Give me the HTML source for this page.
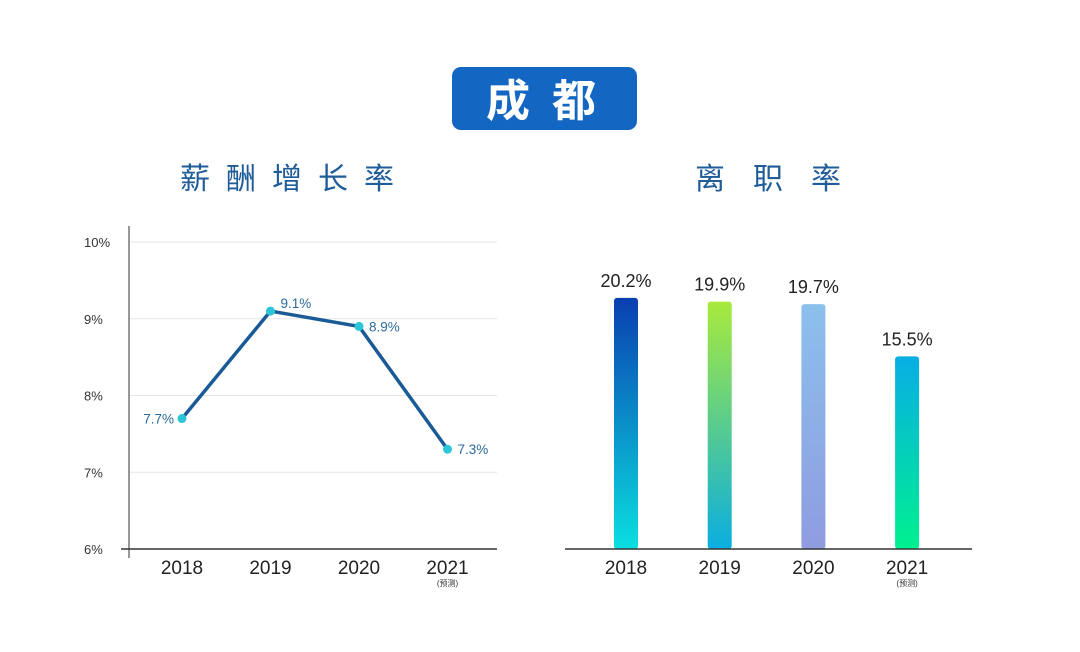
<!DOCTYPE html>
<html><head><meta charset="utf-8"><style>
body{margin:0;background:#fff;}
svg{display:block;font-family:"Liberation Sans","Noto Sans CJK SC",sans-serif;}
</style></head><body>
<svg id="c" width="1080" height="652" viewBox="0 0 1080 652">
<rect x="452" y="67" width="185" height="63" rx="9" fill="#1366c2"/>
<text x="552" y="116" text-anchor="middle" font-size="44" font-weight="bold" fill="#fff" letter-spacing="22">成都</text>
<text x="180" y="189" font-size="30" fill="#1f5c98" letter-spacing="16">薪酬增长率</text>
<text x="695" y="189" font-size="30" fill="#1f5c98" letter-spacing="28">离职率</text>
<g id="line"></g><g id="bars"></g>
</svg>
<script>
const years=["2018","2019","2020","2021"];
const salaryGrowth=[7.7,9.1,8.9,7.3];
const yTicks=[6,7,8,9,10];
const turnover=[20.2,19.9,19.7,15.5];
const ns="http://www.w3.org/2000/svg";
function mk(p,t,a,txt){const e=document.createElementNS(ns,t);for(const k in a)e.setAttribute(k,a[k]);if(txt!==undefined)e.textContent=txt;p.appendChild(e);return e;}
const L=document.getElementById('line');
const ly=v=>549-(v-6)*76.75;
const lx=i=>182+i*88.5;
yTicks.forEach(t=>{
 if(t>6){const g=mk(L,'line',{x1:129,x2:497,y1:ly(t),y2:ly(t),stroke:'#e6e6e6','stroke-width':1});
 }
 const tx=mk(L,'text',{x:84,y:ly(t)+5,'font-size':13,fill:'#333'},t+'%');
 
});
const ya=mk(L,'line',{x1:129,x2:129,y1:226,y2:558,stroke:'#777','stroke-width':1.5});

const xa=mk(L,'line',{x1:121,x2:497,y1:549,y2:549,stroke:'#333','stroke-width':1.5});

const pl=mk(L,'polyline',{points:salaryGrowth.map((v,i)=>lx(i)+','+ly(v)).join(' '),fill:'none',stroke:'#1a5a96','stroke-width':3.5,'stroke-linejoin':'round'});

salaryGrowth.forEach((v,i)=>{
 const c=mk(L,'circle',{cx:lx(i),cy:ly(v),r:4.5,fill:'#2cc6d8'});
 
 const left=i===0;const up=i===1;
 const t=mk(L,'text',{x:left?lx(i)-8:lx(i)+10,y:up?ly(v)-3:ly(v)+5,'font-size':13.5,fill:'#2b6a9a','text-anchor':left?'end':'start'},v.toFixed(1)+'%');
 
 const yl=mk(L,'text',{x:lx(i),y:574,'font-size':19,fill:'#222','text-anchor':'middle'},years[i]);
 
});
const n1=mk(L,'text',{x:lx(3),y:586,'font-size':8,fill:'#333','text-anchor':'middle'},'(预测)');


const B=document.getElementById('bars');
const grads=[['#0a3fb0','#0bdfe0'],['#a8ea3c','#0aaee0'],['#8cc0ec','#8f9ce0'],['#08aee4','#00f090']];
const defs=mk(document.getElementById('c'),'defs',{});
grads.forEach((g,i)=>{const lg=mk(defs,'linearGradient',{id:'g'+i,x1:0,y1:0,x2:0,y2:1});mk(lg,'stop',{offset:0,'stop-color':g[0]});mk(lg,'stop',{offset:1,'stop-color':g[1]});});
const by=v=>549-v*12.43;
const bx=i=>626+i*93.7;
turnover.forEach((v,i)=>{
 const r=mk(B,'rect',{x:bx(i)-12,y:by(v),width:24,height:549-by(v),rx:3,fill:'url(#g'+i+')'});
 
 const t=mk(B,'text',{x:bx(i),y:by(v)-11,'font-size':18,fill:'#222','text-anchor':'middle'},v.toFixed(1)+'%');
 
 const yl=mk(B,'text',{x:bx(i),y:574,'font-size':19,fill:'#222','text-anchor':'middle'},years[i]);
 
});
const xb=mk(B,'line',{x1:565,x2:972,y1:549,y2:549,stroke:'#333','stroke-width':1.5});

const n2=mk(B,'text',{x:bx(3),y:586,'font-size':8,fill:'#333','text-anchor':'middle'},'(预测)');

</script>
</body></html>
